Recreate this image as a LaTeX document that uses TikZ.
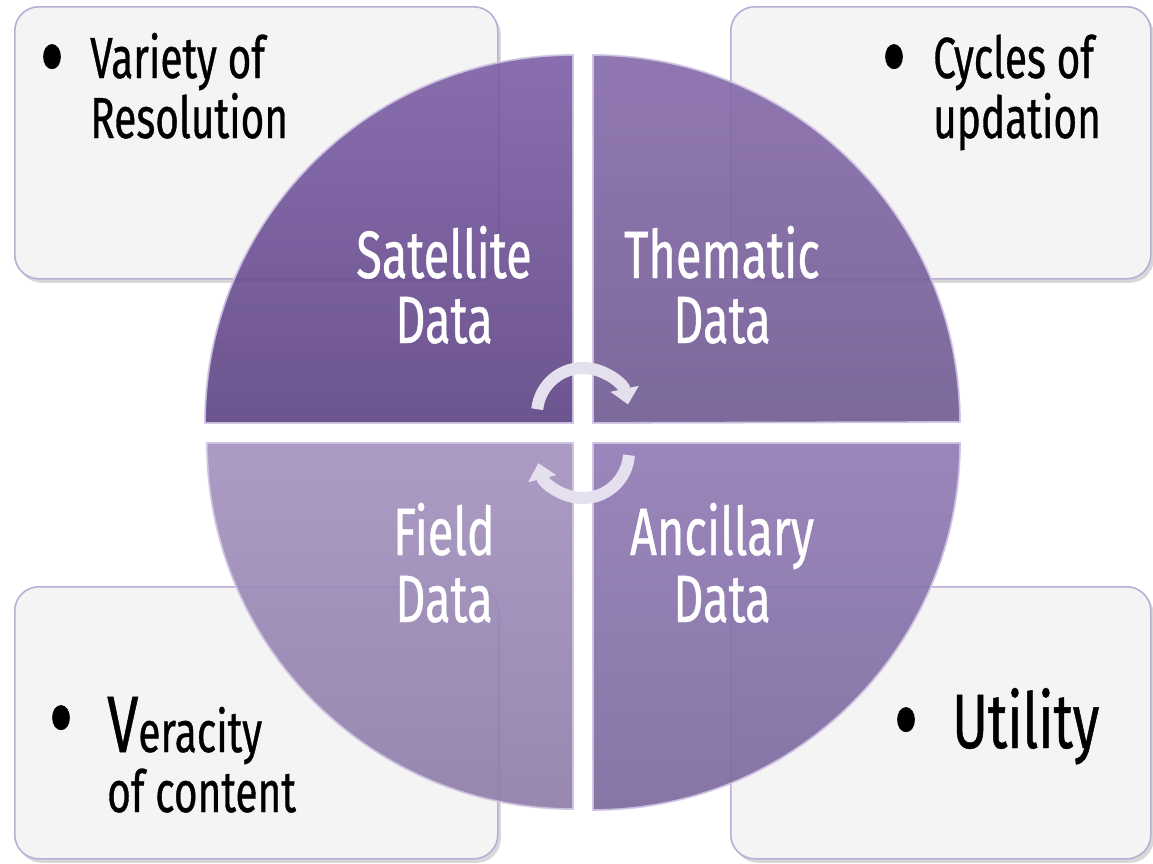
\documentclass[tikz,border=0pt]{standalone}
\usepackage{fontspec}
\setmainfont{Fira Sans}[FakeStretch=0.70, FakeBold=0.6]
\usetikzlibrary{shadows,arrows.meta}
\definecolor{boxfill}{HTML}{F4F4F4}
\definecolor{boxedge}{HTML}{BBAED6}
\definecolor{qonet}{HTML}{7E5FA7}
\definecolor{qoneb}{HTML}{5D4383}
\definecolor{qtwot}{HTML}{8669AA}
\definecolor{qtwob}{HTML}{6F5A91}
\definecolor{qthrt}{HTML}{A391BF}
\definecolor{qthrb}{HTML}{8D7CA8}
\definecolor{qfout}{HTML}{9079B5}
\definecolor{qfoub}{HTML}{7A679C}
\definecolor{qedge}{HTML}{CFC4E4}
\definecolor{cyccol}{HTML}{E4E0EE}
\tikzset{
  infobox/.style={draw=boxedge, line width=1.6pt, fill=boxfill, rounded corners=24pt,
    minimum height=272pt, anchor=north west, inner sep=0pt,
    drop shadow={shadow xshift=3pt, shadow yshift=-4pt, fill=black!30, opacity=0.5}},
  quad/.style={draw=qedge, line width=1.8pt, fill opacity=0.9, draw opacity=0.9},
  qtext/.style={text=white, anchor=base, inner sep=0pt, font=\fontsize{67}{68}\selectfont},
  btext/.style={text=black, anchor=base west, inner sep=0pt, font=\fontsize{58}{60}\selectfont},
  bullet/.style={text=black, anchor=center, inner sep=0pt, font=\fontsize{108}{108}\selectfont},
  cyc/.style={draw=cyccol, line width=12pt, -{Triangle[width=28pt,length=16pt]}}
}
\begin{document}
\begin{tikzpicture}[x=1pt,y=1pt]
\useasboundingbox[fill=white] (0,0) rectangle (1153,-863);
% boxes
\node[infobox, minimum width=483pt] (b1) at (14,-6) {};
\node[infobox, minimum width=420pt] (b2) at (730,-6) {};
\node[infobox, minimum width=483pt] (b3) at (14,-586) {};
\node[infobox, minimum width=420pt] (b4) at (730,-586) {};
% quadrants
\shade[quad, top color=qonet, bottom color=qoneb]
  (573,-423) -- (205,-423) arc[start angle=180, end angle=90, radius=368] -- cycle;
\shade[quad, top color=qtwot, bottom color=qtwob]
  (593,-423) -- (593,-55) arc[start angle=90, end angle=0, radius=367] -- cycle;
\shade[quad, top color=qthrt, bottom color=qthrb]
  (573,-443) -- (573,-809) arc[start angle=270, end angle=180, radius=366] -- cycle;
\shade[quad, top color=qfout, bottom color=qfoub]
  (593,-443) -- (960,-443) arc[start angle=0, end angle=-90, radius=367] -- cycle;
% cycle arrows
\coordinate (ctop) at (583,-414);
\coordinate (cbot) at (583,-452);
\draw[cyc] ([shift={(174:46)}]ctop) arc[start angle=174, end angle=12, radius=46];
\draw[cyc] ([shift={(-4:46)}]cbot) arc[start angle=-4, end angle=-166, radius=46];
% quadrant texts
\node[qtext] (sat1) at (444,-278) {Satellite};
\node[qtext] (sat2) at (444,-343) {Data};
\node[qtext] (the1) at (722,-278) {Thematic};
\node[qtext] (the2) at (722,-343) {Data};
\node[qtext] (fie1) at (444,-555) {Field};
\node[qtext] (fie2) at (444,-622) {Data};
\node[qtext] (anc1) at (722,-555) {Ancillary};
\node[qtext] (anc2) at (722,-622) {Data};
% box texts
\node[bullet] (u1) at (52,-69) {•};
\node[btext] (t1a) at (90,-78) {Variety of};
\node[btext] (t1b) at (90,-138) {Resolution};
\node[bullet] (u2) at (894,-69) {•};
\node[btext] (t2a) at (933,-78) {Cycles of};
\node[btext] (t2b) at (933,-138) {updation};
\node[bullet] (u3) at (61,-730) {•};
\node[btext] (t3a) at (107,-752) {{\fontsize{80}{80}\selectfont V}eracity};
\node[btext] (t3b) at (107,-812) {of content};
\node[bullet] (u4) at (906,-732) {•};
\node[btext, font=\fontsize{77}{77}\selectfont] (t4a) at (952,-748) {Utility};
\end{tikzpicture}
\end{document}
